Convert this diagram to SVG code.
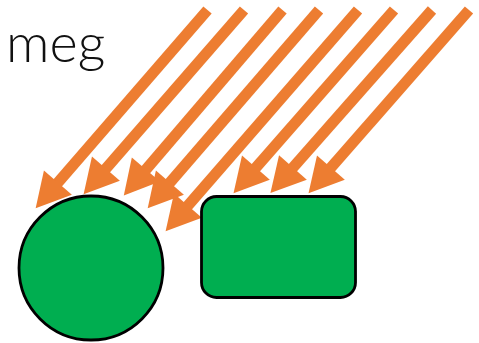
<svg xmlns="http://www.w3.org/2000/svg" width="479" height="343" viewBox="0 0 479 343">
<style>
.arrow{stroke:#ED7D31;stroke-width:11;fill:none;stroke-linecap:butt;marker-end:url(#ah)}
.node{fill:#00AE50;stroke:#000;stroke-width:2.8}
.lbl{font-family:Lato,"Open Sans","DejaVu Sans",sans-serif;font-weight:300;font-size:54px;fill:#111}
</style>
<defs>
<marker id="ah" markerUnits="userSpaceOnUse" orient="auto" refX="2" refY="0" markerWidth="40" markerHeight="40" viewBox="0 -20 40 40" overflow="visible">
<path d="M0,-18.5 L34,0 L0,18.5 Z" fill="#ED7D31"/>
</marker>
</defs>
<text class="lbl" x="6" y="62">meg</text>
<g id="connectors">
<line class="arrow" x1="207.5" y1="10" x2="56.6" y2="184.1"/>
<line class="arrow" x1="244" y1="10" x2="104.6" y2="170.1"/>
<line class="arrow" x1="282.5" y1="10" x2="144.6" y2="171.1"/>
<line class="arrow" x1="319" y1="10" x2="168.6" y2="184.1"/>
<line class="arrow" x1="358" y1="10" x2="186.6" y2="207.1"/>
<line class="arrow" x1="394" y1="10" x2="254.6" y2="169.1"/>
<line class="arrow" x1="432" y1="10" x2="291.6" y2="169.1"/>
<line class="arrow" x1="469" y1="10" x2="329.6" y2="169.1"/>
</g>
<g id="circle-node">
<circle class="node" cx="91" cy="268" r="72"/>
</g>
<g id="rect-node">
<rect class="node" x="201.5" y="196.5" width="154" height="101" rx="15" ry="15"/>
</g>
</svg>
